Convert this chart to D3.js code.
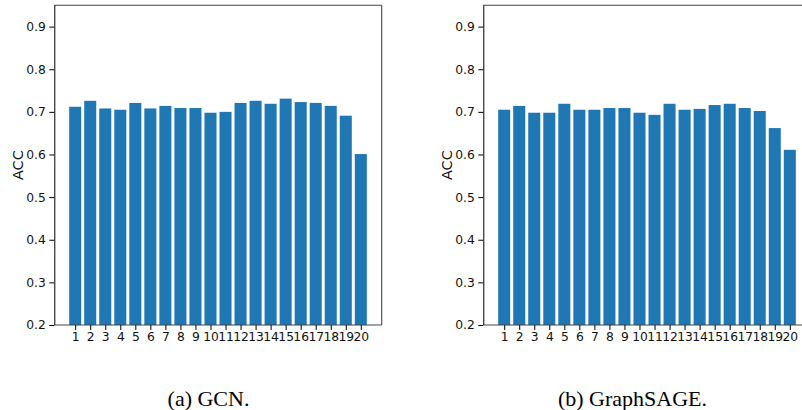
<html>
<head>
    <title>ACC per layer</title>
    <style>
        body { margin: 0; background: #fff; }
        .ax text { font-family: "DejaVu Sans", sans-serif; }
        .cap { font-family: "Liberation Serif", "Times New Roman", Times, serif; }
    </style>
</head>
<body>
    <script src="https://d3js.org/d3.v7.min.js"></script>
    <script>
        var width = 802, height = 410;
        var categories = d3.range(1, 21); // 1..20
        var gcnAcc = [0.712, 0.726, 0.708, 0.705, 0.721, 0.708, 0.714, 0.709, 0.709, 0.698,
                      0.700, 0.721, 0.726, 0.719, 0.731, 0.723, 0.721, 0.714, 0.691, 0.601];
        var sageAcc = [0.705, 0.714, 0.698, 0.698, 0.719, 0.705, 0.705, 0.709, 0.709, 0.698,
                       0.693, 0.719, 0.705, 0.707, 0.716, 0.719, 0.709, 0.702, 0.662, 0.611];
        var yTicks = [0.2, 0.3, 0.4, 0.5, 0.6, 0.7, 0.8, 0.9];
        var captions = ["(a) GCN.", "(b) GraphSAGE."];

        var svg = d3.select("body").append("svg").attr("width", width).attr("height", height);

        var plotW = 327.4, plotTop = 5.3, plotBottom = 325;

        function panel(values, left, caption, capX) {
            var g = svg.append("g").attr("class", "ax");
            // matplotlib style x limits (5% margins around bars)
            var x = d3.scaleLinear().domain([-0.39, 21.39]).range([left, left + plotW]);
            var y = d3.scaleLinear().domain([0.2, 0.95]).range([plotBottom, plotTop]);

            g.append("g").selectAll("rect").data(values).enter().append("rect") // bars
                .attr("x", (d, i) => x(categories[i] - 0.4))
                .attr("y", d => y(d))
                .attr("width", x(0.8) - x(0))
                .attr("height", d => y(0.2) - y(d))
                .attr("fill", "#1f77b4");

            // spines
            g.append("line").attr("x1", left).attr("x2", left + plotW).attr("y1", plotTop).attr("y2", plotTop)
                .attr("stroke", "#444").attr("stroke-width", 1.1);
            g.append("line").attr("x1", left + plotW).attr("x2", left + plotW).attr("y1", plotTop).attr("y2", plotBottom)
                .attr("stroke", "#444").attr("stroke-width", 1.1);

            var ya = g.append("g").attr("transform", "translate(" + left + ",0)")
                .call(d3.axisLeft(y).tickValues(yTicks).tickFormat(d3.format(".1f")).tickSize(5).tickPadding(3.5).tickSizeOuter(0));
            var xa = g.append("g").attr("transform", "translate(0," + plotBottom + ")")
                .call(d3.axisBottom(x).tickValues(categories).tickFormat(d3.format("d")).tickSize(5).tickPadding(2).tickSizeOuter(0));

            [ya, xa].forEach(a => {
                a.attr("font-family", null).attr("font-size", null);
                a.select(".domain").attr("stroke", "#000");
                a.selectAll("text").style("font-size", "12.3px").attr("fill", "#111");
                a.selectAll(".tick line").attr("stroke", "#000");
            });
            ya.select(".domain").attr("d", "M0.5," + plotTop + "V" + plotBottom);
            xa.select(".domain").attr("d", "M" + left + ",0H" + (left + plotW)).attr("stroke", "#444");

            g.append("text") // y label
                .text("ACC")
                .attr("transform", "translate(" + (left - 31.6) + "," + ((plotTop + plotBottom) / 2) + ") rotate(-90)")
                .attr("text-anchor", "middle")
                .style("font-size", "14.5px")
                .attr("fill", "#111");

            svg.append("text") // caption
                .attr("class", "cap")
                .text(caption)
                .attr("x", capX)
                .attr("y", 406)
                .attr("text-anchor", "middle")
                .style("font-size", "22px")
                .attr("fill", "#000");
        }

        panel(gcnAcc, 54.3, captions[0], 208.5);
        panel(sageAcc, 483.3, captions[1], 632.5);
    </script>
</body>
</html>
